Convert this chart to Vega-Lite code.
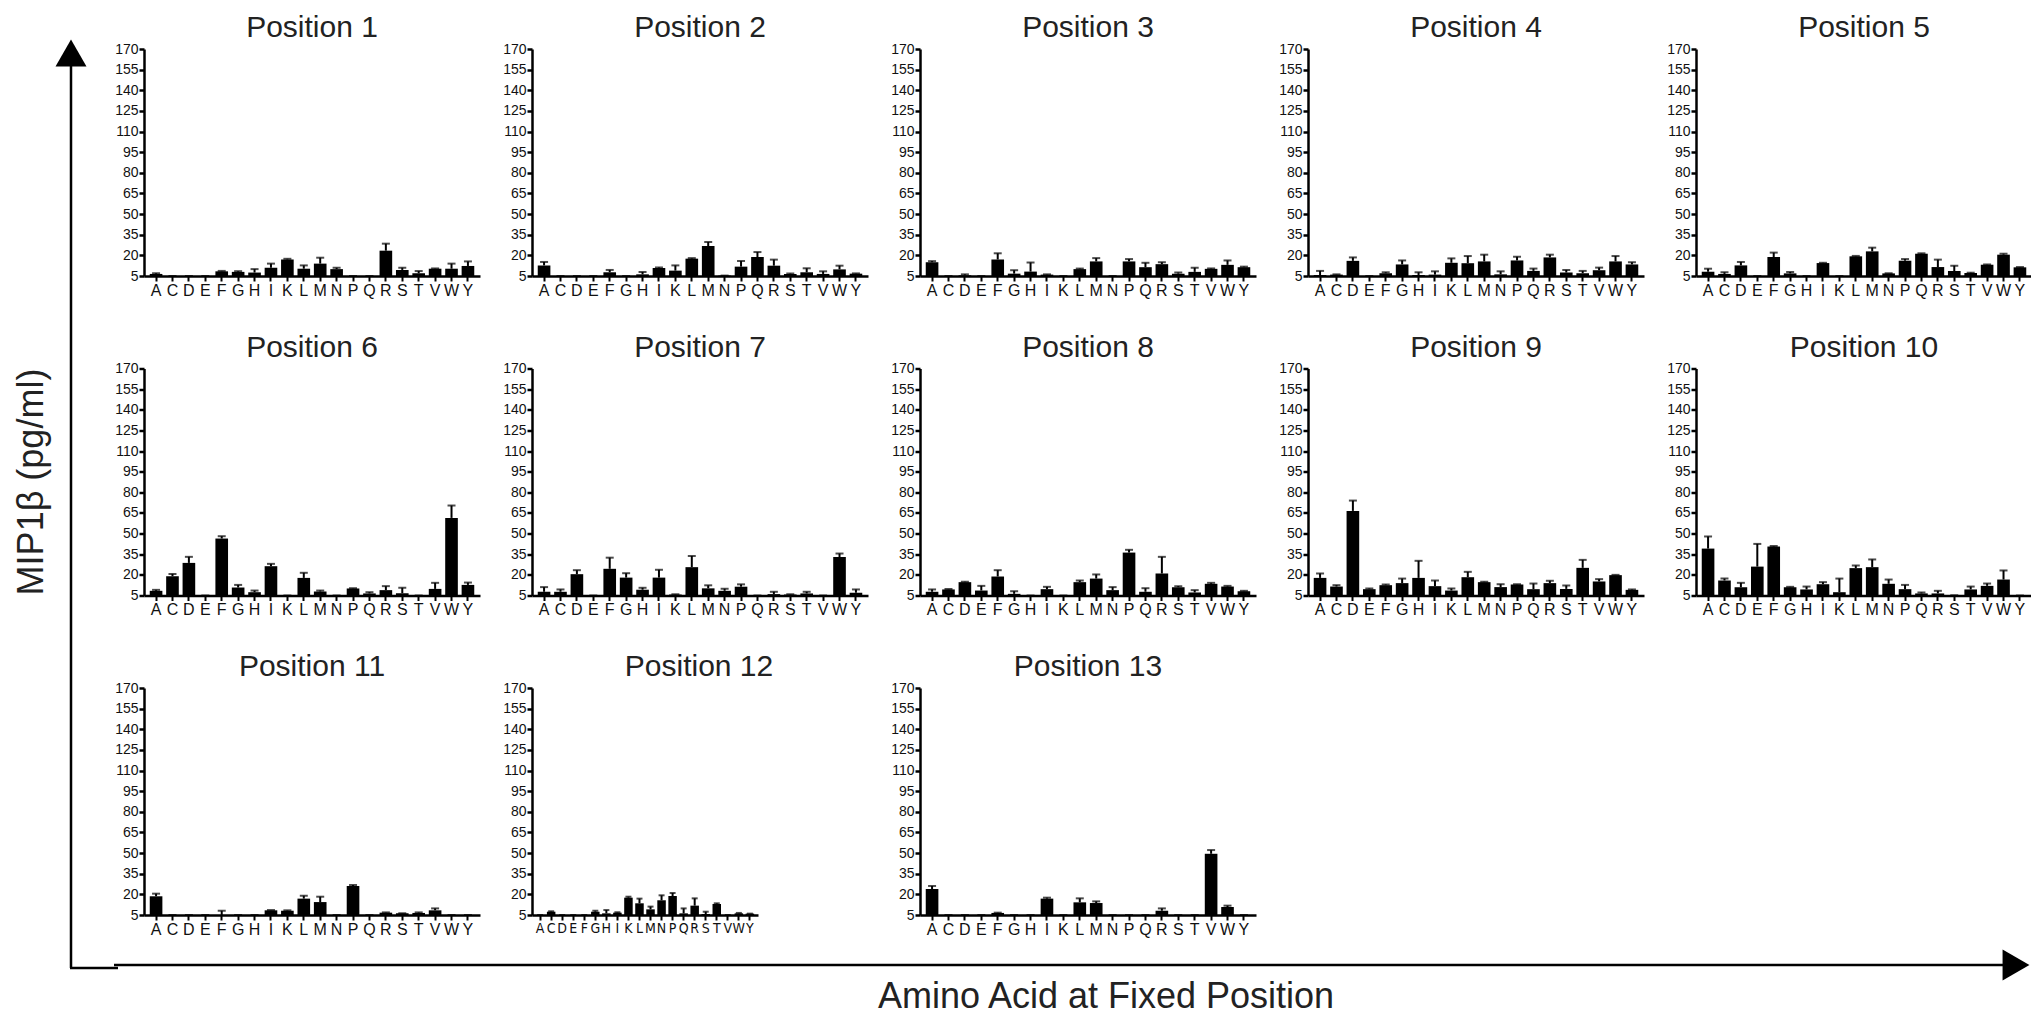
{
"$schema": "https://vega.github.io/schema/vega-lite/v6.json",
"padding": {"left": 0, "top": 13, "right": 0, "bottom": 0},
"background": "white",
"datasets": {"d": [
{"p":1,"a":"A","v":6.5,"e":7},{"p":1,"a":"C","v":5,"e":5},{"p":1,"a":"D","v":5,"e":5},{"p":1,"a":"E","v":5,"e":5},{"p":1,"a":"F","v":8.4,"e":8.7},{"p":1,"a":"G","v":8,"e":8.5},{"p":1,"a":"H","v":7.5,"e":10},{"p":1,"a":"I","v":11,"e":14},{"p":1,"a":"K","v":17,"e":17.5},{"p":1,"a":"L","v":10.3,"e":12.7},{"p":1,"a":"M","v":14,"e":18.3},{"p":1,"a":"N","v":10,"e":11},{"p":1,"a":"P","v":5,"e":5},{"p":1,"a":"Q","v":5,"e":5},{"p":1,"a":"R","v":23.4,"e":28.5},{"p":1,"a":"S","v":9.4,"e":11},{"p":1,"a":"T","v":7,"e":8.6},{"p":1,"a":"V","v":10.3,"e":10.5},{"p":1,"a":"W","v":10.3,"e":14},{"p":1,"a":"Y","v":12.3,"e":15.6},
{"p":2,"a":"A","v":12.7,"e":15.2},{"p":2,"a":"C","v":5,"e":5},{"p":2,"a":"D","v":5,"e":5},{"p":2,"a":"E","v":5,"e":5},{"p":2,"a":"F","v":7.7,"e":9.4},{"p":2,"a":"G","v":5,"e":5},{"p":2,"a":"H","v":6.2,"e":7.9},{"p":2,"a":"I","v":10.8,"e":11.2},{"p":2,"a":"K","v":8.9,"e":12.7},{"p":2,"a":"L","v":17.6,"e":18},{"p":2,"a":"M","v":26.8,"e":29.7},{"p":2,"a":"N","v":5.3,"e":5.3},{"p":2,"a":"P","v":11.8,"e":15.9},{"p":2,"a":"Q","v":18.8,"e":22.4},{"p":2,"a":"R","v":12.5,"e":16.9},{"p":2,"a":"S","v":6.5,"e":6.8},{"p":2,"a":"T","v":7.7,"e":10.6},{"p":2,"a":"V","v":6.5,"e":8.4},{"p":2,"a":"W","v":9.8,"e":12.5},{"p":2,"a":"Y","v":6.7,"e":6.9},
{"p":3,"a":"A","v":15,"e":15.8},{"p":3,"a":"C","v":5,"e":5},{"p":3,"a":"D","v":5.5,"e":6.2},{"p":3,"a":"E","v":5,"e":5},{"p":3,"a":"F","v":17,"e":21.5},{"p":3,"a":"G","v":6.7,"e":9.2},{"p":3,"a":"H","v":8.2,"e":14.8},{"p":3,"a":"I","v":6,"e":6.2},{"p":3,"a":"K","v":5,"e":5},{"p":3,"a":"L","v":10,"e":10.4},{"p":3,"a":"M","v":15.6,"e":18},{"p":3,"a":"N","v":5,"e":5},{"p":3,"a":"P","v":15.6,"e":17.3},{"p":3,"a":"Q","v":11.4,"e":14.6},{"p":3,"a":"R","v":13.6,"e":15},{"p":3,"a":"S","v":6.7,"e":7.5},{"p":3,"a":"T","v":8,"e":11},{"p":3,"a":"V","v":10.2,"e":10.5},{"p":3,"a":"W","v":13.1,"e":16.3},{"p":3,"a":"Y","v":11.4,"e":11.8},
{"p":4,"a":"A","v":5.7,"e":8.7},{"p":4,"a":"C","v":6,"e":6.2},{"p":4,"a":"D","v":16,"e":18.5},{"p":4,"a":"E","v":5,"e":5},{"p":4,"a":"F","v":7,"e":7.7},{"p":4,"a":"G","v":13.4,"e":16.3},{"p":4,"a":"H","v":5.7,"e":7.7},{"p":4,"a":"I","v":6,"e":8.4},{"p":4,"a":"K","v":14.6,"e":17.8},{"p":4,"a":"L","v":14.3,"e":19.5},{"p":4,"a":"M","v":15.6,"e":20.5},{"p":4,"a":"N","v":6.2,"e":8.4},{"p":4,"a":"P","v":16.3,"e":19},{"p":4,"a":"Q","v":8.7,"e":10.4},{"p":4,"a":"R","v":18.5,"e":20.5},{"p":4,"a":"S","v":7.5,"e":9.4},{"p":4,"a":"T","v":7,"e":8.7},{"p":4,"a":"V","v":9.2,"e":11.1},{"p":4,"a":"W","v":15.6,"e":19.5},{"p":4,"a":"Y","v":13.4,"e":15},
{"p":5,"a":"A","v":8.1,"e":10.3},{"p":5,"a":"C","v":6.5,"e":7.7},{"p":5,"a":"D","v":12.7,"e":15.2},{"p":5,"a":"E","v":5,"e":5},{"p":5,"a":"F","v":18.8,"e":22},{"p":5,"a":"G","v":6.9,"e":7.9},{"p":5,"a":"H","v":5,"e":5},{"p":5,"a":"I","v":14.4,"e":14.6},{"p":5,"a":"K","v":5,"e":5},{"p":5,"a":"L","v":19.3,"e":19.6},{"p":5,"a":"M","v":22.9,"e":25.6},{"p":5,"a":"N","v":6.9,"e":7},{"p":5,"a":"P","v":16.1,"e":17.3},{"p":5,"a":"Q","v":21.2,"e":21.5},{"p":5,"a":"R","v":11.5,"e":16.9},{"p":5,"a":"S","v":8.6,"e":12.5},{"p":5,"a":"T","v":7.2,"e":7.4},{"p":5,"a":"V","v":13.2,"e":13.4},{"p":5,"a":"W","v":20.5,"e":21.2},{"p":5,"a":"Y","v":11.3,"e":11.5},
{"p":6,"a":"A","v":8.4,"e":9.1},{"p":6,"a":"C","v":19,"e":20.7},{"p":6,"a":"D","v":28.7,"e":33.1},{"p":6,"a":"E","v":5,"e":5},{"p":6,"a":"F","v":46.4,"e":48.1},{"p":6,"a":"G","v":10.8,"e":12.7},{"p":6,"a":"H","v":7.4,"e":8.6},{"p":6,"a":"I","v":26.3,"e":28},{"p":6,"a":"K","v":5,"e":5},{"p":6,"a":"L","v":17.8,"e":21.5},{"p":6,"a":"M","v":7.9,"e":8.6},{"p":6,"a":"N","v":5,"e":5},{"p":6,"a":"P","v":10.1,"e":10.3},{"p":6,"a":"Q","v":6.5,"e":7.4},{"p":6,"a":"R","v":8.9,"e":11.8},{"p":6,"a":"S","v":6.7,"e":10.6},{"p":6,"a":"T","v":5,"e":5},{"p":6,"a":"V","v":9.8,"e":14.2},{"p":6,"a":"W","v":61.4,"e":70.4},{"p":6,"a":"Y","v":12.7,"e":14.4},
{"p":7,"a":"A","v":7.7,"e":11.1},{"p":7,"a":"C","v":7.7,"e":9.4},{"p":7,"a":"D","v":20.5,"e":23.4},{"p":7,"a":"E","v":5,"e":5},{"p":7,"a":"F","v":24.4,"e":32.5},{"p":7,"a":"G","v":18,"e":21.2},{"p":7,"a":"H","v":9.2,"e":10.6},{"p":7,"a":"I","v":18,"e":23.7},{"p":7,"a":"K","v":5.7,"e":5.9},{"p":7,"a":"L","v":25.6,"e":33.7},{"p":7,"a":"M","v":10.2,"e":12.4},{"p":7,"a":"N","v":8.4,"e":9.9},{"p":7,"a":"P","v":11.4,"e":13.1},{"p":7,"a":"Q","v":5,"e":5},{"p":7,"a":"R","v":6,"e":7.7},{"p":7,"a":"S","v":5.7,"e":5.9},{"p":7,"a":"T","v":6.5,"e":7.7},{"p":7,"a":"V","v":5,"e":5},{"p":7,"a":"W","v":33,"e":35.5},{"p":7,"a":"Y","v":7,"e":9.4},
{"p":8,"a":"A","v":7.7,"e":9.4},{"p":8,"a":"C","v":9.4,"e":9.7},{"p":8,"a":"D","v":14.7,"e":15},{"p":8,"a":"E","v":8.6,"e":12},{"p":8,"a":"F","v":18.8,"e":23.4},{"p":8,"a":"G","v":6.2,"e":8.1},{"p":8,"a":"H","v":5,"e":5},{"p":8,"a":"I","v":9.6,"e":11.3},{"p":8,"a":"K","v":5,"e":5},{"p":8,"a":"L","v":14.7,"e":15.9},{"p":8,"a":"M","v":17.3,"e":20.3},{"p":8,"a":"N","v":8.9,"e":11.1},{"p":8,"a":"P","v":36.2,"e":38.2},{"p":8,"a":"Q","v":7.7,"e":10.3},{"p":8,"a":"R","v":21,"e":33.1},{"p":8,"a":"S","v":11,"e":11.8},{"p":8,"a":"T","v":7.2,"e":8.9},{"p":8,"a":"V","v":13.5,"e":14.2},{"p":8,"a":"W","v":11.5,"e":12},{"p":8,"a":"Y","v":8.1,"e":8.4},
{"p":9,"a":"A","v":17.8,"e":21},{"p":9,"a":"C","v":11.5,"e":12.5},{"p":9,"a":"D","v":66.5,"e":74},{"p":9,"a":"E","v":9.6,"e":10.1},{"p":9,"a":"F","v":12.5,"e":13},{"p":9,"a":"G","v":14,"e":17.3},{"p":9,"a":"H","v":17.8,"e":30.2},{"p":9,"a":"I","v":11.8,"e":15.9},{"p":9,"a":"K","v":8.6,"e":10.1},{"p":9,"a":"L","v":18.3,"e":22.2},{"p":9,"a":"M","v":14.7,"e":15},{"p":9,"a":"N","v":11.1,"e":13.2},{"p":9,"a":"P","v":13,"e":13.2},{"p":9,"a":"Q","v":9.6,"e":13.7},{"p":9,"a":"R","v":14,"e":15.7},{"p":9,"a":"S","v":9.8,"e":12.3},{"p":9,"a":"T","v":25.1,"e":30.9},{"p":9,"a":"V","v":15.2,"e":16.9},{"p":9,"a":"W","v":19.8,"e":20},{"p":9,"a":"Y","v":9.1,"e":9.4},
{"p":10,"a":"A","v":39.1,"e":47.9},{"p":10,"a":"C","v":15.9,"e":17.3},{"p":10,"a":"D","v":11,"e":14.2},{"p":10,"a":"E","v":26,"e":42.5},{"p":10,"a":"F","v":40.6,"e":41},{"p":10,"a":"G","v":11,"e":11.3},{"p":10,"a":"H","v":9.4,"e":11.5},{"p":10,"a":"I","v":13.2,"e":14.7},{"p":10,"a":"K","v":7.4,"e":17.3},{"p":10,"a":"L","v":24.9,"e":26.8},{"p":10,"a":"M","v":25.6,"e":31.2},{"p":10,"a":"N","v":13.5,"e":16.6},{"p":10,"a":"P","v":9.6,"e":12.7},{"p":10,"a":"Q","v":6.5,"e":7.2},{"p":10,"a":"R","v":6.5,"e":8.4},{"p":10,"a":"S","v":5.2,"e":5.2},{"p":10,"a":"T","v":9.4,"e":11.5},{"p":10,"a":"V","v":12,"e":13.7},{"p":10,"a":"W","v":16.6,"e":23.2},{"p":10,"a":"Y","v":5,"e":5},
{"p":11,"a":"A","v":18.6,"e":20.5},{"p":11,"a":"C","v":5,"e":5},{"p":11,"a":"D","v":5,"e":5},{"p":11,"a":"E","v":5,"e":5},{"p":11,"a":"F","v":5,"e":8.1},{"p":11,"a":"G","v":5,"e":5},{"p":11,"a":"H","v":5,"e":5},{"p":11,"a":"I","v":8.4,"e":8.6},{"p":11,"a":"K","v":8.1,"e":8.4},{"p":11,"a":"L","v":16.9,"e":19},{"p":11,"a":"M","v":14.4,"e":18.3},{"p":11,"a":"N","v":5,"e":5},{"p":11,"a":"P","v":26.1,"e":26.8},{"p":11,"a":"Q","v":5,"e":5},{"p":11,"a":"R","v":6.7,"e":6.9},{"p":11,"a":"S","v":6.2,"e":6.3},{"p":11,"a":"T","v":6.5,"e":6.9},{"p":11,"a":"V","v":8.4,"e":9.8},{"p":11,"a":"W","v":5,"e":5},{"p":11,"a":"Y","v":5,"e":5},
{"p":12,"a":"A","v":5,"e":5},{"p":12,"a":"C","v":7.4,"e":7.7},{"p":12,"a":"D","v":5,"e":5},{"p":12,"a":"E","v":5,"e":5},{"p":12,"a":"F","v":5,"e":5},{"p":12,"a":"G","v":7.4,"e":8.1},{"p":12,"a":"H","v":6.2,"e":8.6},{"p":12,"a":"I","v":6.7,"e":7},{"p":12,"a":"K","v":17.6,"e":18.3},{"p":12,"a":"L","v":13.5,"e":16.9},{"p":12,"a":"M","v":9.1,"e":11.1},{"p":12,"a":"N","v":15.7,"e":19.3},{"p":12,"a":"P","v":18.8,"e":21},{"p":12,"a":"Q","v":6.2,"e":9.8},{"p":12,"a":"R","v":11.8,"e":17.1},{"p":12,"a":"S","v":5.7,"e":7.4},{"p":12,"a":"T","v":13,"e":13.5},{"p":12,"a":"V","v":5,"e":5},{"p":12,"a":"W","v":6.2,"e":6.5},{"p":12,"a":"Y","v":6,"e":6},
{"p":13,"a":"A","v":23.9,"e":26.1},{"p":13,"a":"C","v":5,"e":5},{"p":13,"a":"D","v":5,"e":5},{"p":13,"a":"E","v":5,"e":5},{"p":13,"a":"F","v":6.5,"e":6.7},{"p":13,"a":"G","v":5,"e":5},{"p":13,"a":"H","v":5,"e":5},{"p":13,"a":"I","v":16.9,"e":17.6},{"p":13,"a":"K","v":5,"e":5},{"p":13,"a":"L","v":14.2,"e":17.1},{"p":13,"a":"M","v":13.7,"e":14.9},{"p":13,"a":"N","v":5,"e":5},{"p":13,"a":"P","v":5,"e":5},{"p":13,"a":"Q","v":5,"e":5},{"p":13,"a":"R","v":8.1,"e":9.8},{"p":13,"a":"S","v":5,"e":5},{"p":13,"a":"T","v":5,"e":5},{"p":13,"a":"V","v":49.5,"e":52.2},{"p":13,"a":"W","v":10.8,"e":11.8},{"p":13,"a":"Y","v":5,"e":5}
]},
"data": {"name": "d"},
"spacing": -8,
"hconcat": [
 {"width": 110, "height": 969,
  "layer": [
   {"data": {"values": [{"x": 71, "y": 62, "y2": 965}]}, "mark": {"type": "rule", "strokeWidth": 2.5},
    "encoding": {"x": {"field": "x", "type": "quantitative", "scale": {"domain": [0, 110], "nice": false, "zero": false}, "axis": null},
                 "y": {"field": "y", "type": "quantitative", "scale": {"domain": [46, 1015], "reverse": true, "nice": false, "zero": false}, "axis": null},
                 "y2": {"field": "y2"}}},
   {"data": {"values": [{"x": 70, "x2": 118, "y": 965}]}, "mark": {"type": "rule", "strokeWidth": 2.5},
    "encoding": {"x": {"field": "x", "type": "quantitative", "axis": null}, "x2": {"field": "x2"},
                 "y": {"field": "y", "type": "quantitative", "axis": null}}},
   {"data": {"values": [{"x": 71, "y": 50}]}, "mark": {"type": "point", "shape": "triangle-up", "filled": true, "size": 961, "color": "#000", "opacity": 1},
    "encoding": {"x": {"field": "x", "type": "quantitative", "axis": null}, "y": {"field": "y", "type": "quantitative", "axis": null}}},
   {"data": {"values": [{"x": 32, "y": 479, "t": "MIP1β (pg/ml)"}]}, "mark": {"type": "text", "fontSize": 36, "angle": 270, "color": "#222", "baseline": "middle", "align": "center", "font": "Liberation Sans"},
    "encoding": {"x": {"field": "x", "type": "quantitative", "axis": null}, "y": {"field": "y", "type": "quantitative", "axis": null}, "text": {"field": "t"}}}
  ]},
 {"spacing": 0, "vconcat": [
  {"spacing": 34.5, "vconcat": [
   {"spacing": 22, "hconcat": [
    {"title": "Position 1", "width": 336, "height": 227, "transform": [{"filter": "datum.p == 1"}],
     "encoding": {"x": {"field": "a", "type": "nominal", "scale": {"domain": ["A","C","D","E","F","G","H","I","K","L","M","N","P","Q","R","S","T","V","W","Y"], "paddingInner": 0.23, "paddingOuter": 0.35}, "axis": {"title": null}},
                  "y": {"field": "v", "type": "quantitative", "title": null, "scale": {"domain": [5, 170], "nice": false, "zero": false}, "axis": {"title": null, "values": [5,20,35,50,65,80,95,110,125,140,155,170]}}},
     "layer": [{"mark": "bar", "encoding": {"y2": {"datum": 5}}}, {"mark": "rule", "encoding": {"y2": {"field": "e"}}}, {"mark": "tick", "encoding": {"y": {"field": "e", "type": "quantitative", "title": null, "axis": {"title": null, "values": [5,20,35,50,65,80,95,110,125,140,155,170]}}}}]},
    {"title": "Position 2", "width": 336, "height": 227, "transform": [{"filter": "datum.p == 2"}],
     "encoding": {"x": {"field": "a", "type": "nominal", "scale": {"domain": ["A","C","D","E","F","G","H","I","K","L","M","N","P","Q","R","S","T","V","W","Y"], "paddingInner": 0.23, "paddingOuter": 0.35}, "axis": {"title": null}},
                  "y": {"field": "v", "type": "quantitative", "title": null, "scale": {"domain": [5, 170], "nice": false, "zero": false}, "axis": {"title": null, "values": [5,20,35,50,65,80,95,110,125,140,155,170]}}},
     "layer": [{"mark": "bar", "encoding": {"y2": {"datum": 5}}}, {"mark": "rule", "encoding": {"y2": {"field": "e"}}}, {"mark": "tick", "encoding": {"y": {"field": "e", "type": "quantitative", "title": null, "axis": {"title": null, "values": [5,20,35,50,65,80,95,110,125,140,155,170]}}}}]},
    {"title": "Position 3", "width": 336, "height": 227, "transform": [{"filter": "datum.p == 3"}],
     "encoding": {"x": {"field": "a", "type": "nominal", "scale": {"domain": ["A","C","D","E","F","G","H","I","K","L","M","N","P","Q","R","S","T","V","W","Y"], "paddingInner": 0.23, "paddingOuter": 0.35}, "axis": {"title": null}},
                  "y": {"field": "v", "type": "quantitative", "title": null, "scale": {"domain": [5, 170], "nice": false, "zero": false}, "axis": {"title": null, "values": [5,20,35,50,65,80,95,110,125,140,155,170]}}},
     "layer": [{"mark": "bar", "encoding": {"y2": {"datum": 5}}}, {"mark": "rule", "encoding": {"y2": {"field": "e"}}}, {"mark": "tick", "encoding": {"y": {"field": "e", "type": "quantitative", "title": null, "axis": {"title": null, "values": [5,20,35,50,65,80,95,110,125,140,155,170]}}}}]},
    {"title": "Position 4", "width": 336, "height": 227, "transform": [{"filter": "datum.p == 4"}],
     "encoding": {"x": {"field": "a", "type": "nominal", "scale": {"domain": ["A","C","D","E","F","G","H","I","K","L","M","N","P","Q","R","S","T","V","W","Y"], "paddingInner": 0.23, "paddingOuter": 0.35}, "axis": {"title": null}},
                  "y": {"field": "v", "type": "quantitative", "title": null, "scale": {"domain": [5, 170], "nice": false, "zero": false}, "axis": {"title": null, "values": [5,20,35,50,65,80,95,110,125,140,155,170]}}},
     "layer": [{"mark": "bar", "encoding": {"y2": {"datum": 5}}}, {"mark": "rule", "encoding": {"y2": {"field": "e"}}}, {"mark": "tick", "encoding": {"y": {"field": "e", "type": "quantitative", "title": null, "axis": {"title": null, "values": [5,20,35,50,65,80,95,110,125,140,155,170]}}}}]},
    {"title": "Position 5", "width": 336, "height": 227, "transform": [{"filter": "datum.p == 5"}],
     "encoding": {"x": {"field": "a", "type": "nominal", "scale": {"domain": ["A","C","D","E","F","G","H","I","K","L","M","N","P","Q","R","S","T","V","W","Y"], "paddingInner": 0.23, "paddingOuter": 0.35}, "axis": {"title": null}},
                  "y": {"field": "v", "type": "quantitative", "title": null, "scale": {"domain": [5, 170], "nice": false, "zero": false}, "axis": {"title": null, "values": [5,20,35,50,65,80,95,110,125,140,155,170]}}},
     "layer": [{"mark": "bar", "encoding": {"y2": {"datum": 5}}}, {"mark": "rule", "encoding": {"y2": {"field": "e"}}}, {"mark": "tick", "encoding": {"y": {"field": "e", "type": "quantitative", "title": null, "axis": {"title": null, "values": [5,20,35,50,65,80,95,110,125,140,155,170]}}}}]}
   ]},
   {"spacing": 22, "hconcat": [
    {"title": "Position 6", "width": 336, "height": 227, "transform": [{"filter": "datum.p == 6"}],
     "encoding": {"x": {"field": "a", "type": "nominal", "scale": {"domain": ["A","C","D","E","F","G","H","I","K","L","M","N","P","Q","R","S","T","V","W","Y"], "paddingInner": 0.23, "paddingOuter": 0.35}, "axis": {"title": null}},
                  "y": {"field": "v", "type": "quantitative", "title": null, "scale": {"domain": [5, 170], "nice": false, "zero": false}, "axis": {"title": null, "values": [5,20,35,50,65,80,95,110,125,140,155,170]}}},
     "layer": [{"mark": "bar", "encoding": {"y2": {"datum": 5}}}, {"mark": "rule", "encoding": {"y2": {"field": "e"}}}, {"mark": "tick", "encoding": {"y": {"field": "e", "type": "quantitative", "title": null, "axis": {"title": null, "values": [5,20,35,50,65,80,95,110,125,140,155,170]}}}}]},
    {"title": "Position 7", "width": 336, "height": 227, "transform": [{"filter": "datum.p == 7"}],
     "encoding": {"x": {"field": "a", "type": "nominal", "scale": {"domain": ["A","C","D","E","F","G","H","I","K","L","M","N","P","Q","R","S","T","V","W","Y"], "paddingInner": 0.23, "paddingOuter": 0.35}, "axis": {"title": null}},
                  "y": {"field": "v", "type": "quantitative", "title": null, "scale": {"domain": [5, 170], "nice": false, "zero": false}, "axis": {"title": null, "values": [5,20,35,50,65,80,95,110,125,140,155,170]}}},
     "layer": [{"mark": "bar", "encoding": {"y2": {"datum": 5}}}, {"mark": "rule", "encoding": {"y2": {"field": "e"}}}, {"mark": "tick", "encoding": {"y": {"field": "e", "type": "quantitative", "title": null, "axis": {"title": null, "values": [5,20,35,50,65,80,95,110,125,140,155,170]}}}}]},
    {"title": "Position 8", "width": 336, "height": 227, "transform": [{"filter": "datum.p == 8"}],
     "encoding": {"x": {"field": "a", "type": "nominal", "scale": {"domain": ["A","C","D","E","F","G","H","I","K","L","M","N","P","Q","R","S","T","V","W","Y"], "paddingInner": 0.23, "paddingOuter": 0.35}, "axis": {"title": null}},
                  "y": {"field": "v", "type": "quantitative", "title": null, "scale": {"domain": [5, 170], "nice": false, "zero": false}, "axis": {"title": null, "values": [5,20,35,50,65,80,95,110,125,140,155,170]}}},
     "layer": [{"mark": "bar", "encoding": {"y2": {"datum": 5}}}, {"mark": "rule", "encoding": {"y2": {"field": "e"}}}, {"mark": "tick", "encoding": {"y": {"field": "e", "type": "quantitative", "title": null, "axis": {"title": null, "values": [5,20,35,50,65,80,95,110,125,140,155,170]}}}}]},
    {"title": "Position 9", "width": 336, "height": 227, "transform": [{"filter": "datum.p == 9"}],
     "encoding": {"x": {"field": "a", "type": "nominal", "scale": {"domain": ["A","C","D","E","F","G","H","I","K","L","M","N","P","Q","R","S","T","V","W","Y"], "paddingInner": 0.23, "paddingOuter": 0.35}, "axis": {"title": null}},
                  "y": {"field": "v", "type": "quantitative", "title": null, "scale": {"domain": [5, 170], "nice": false, "zero": false}, "axis": {"title": null, "values": [5,20,35,50,65,80,95,110,125,140,155,170]}}},
     "layer": [{"mark": "bar", "encoding": {"y2": {"datum": 5}}}, {"mark": "rule", "encoding": {"y2": {"field": "e"}}}, {"mark": "tick", "encoding": {"y": {"field": "e", "type": "quantitative", "title": null, "axis": {"title": null, "values": [5,20,35,50,65,80,95,110,125,140,155,170]}}}}]},
    {"title": "Position 10", "width": 336, "height": 227, "transform": [{"filter": "datum.p == 10"}],
     "encoding": {"x": {"field": "a", "type": "nominal", "scale": {"domain": ["A","C","D","E","F","G","H","I","K","L","M","N","P","Q","R","S","T","V","W","Y"], "paddingInner": 0.23, "paddingOuter": 0.35}, "axis": {"title": null}},
                  "y": {"field": "v", "type": "quantitative", "title": null, "scale": {"domain": [5, 170], "nice": false, "zero": false}, "axis": {"title": null, "values": [5,20,35,50,65,80,95,110,125,140,155,170]}}},
     "layer": [{"mark": "bar", "encoding": {"y2": {"datum": 5}}}, {"mark": "rule", "encoding": {"y2": {"field": "e"}}}, {"mark": "tick", "encoding": {"y": {"field": "e", "type": "quantitative", "title": null, "axis": {"title": null, "values": [5,20,35,50,65,80,95,110,125,140,155,170]}}}}]}
   ]},
   {"spacing": 22, "hconcat": [
    {"title": "Position 11", "width": 336, "height": 227, "transform": [{"filter": "datum.p == 11"}],
     "encoding": {"x": {"field": "a", "type": "nominal", "scale": {"domain": ["A","C","D","E","F","G","H","I","K","L","M","N","P","Q","R","S","T","V","W","Y"], "paddingInner": 0.23, "paddingOuter": 0.35}, "axis": {"title": null}},
                  "y": {"field": "v", "type": "quantitative", "title": null, "scale": {"domain": [5, 170], "nice": false, "zero": false}, "axis": {"title": null, "values": [5,20,35,50,65,80,95,110,125,140,155,170]}}},
     "layer": [{"mark": "bar", "encoding": {"y2": {"datum": 5}}}, {"mark": "rule", "encoding": {"y2": {"field": "e"}}}, {"mark": "tick", "encoding": {"y": {"field": "e", "type": "quantitative", "title": null, "axis": {"title": null, "values": [5,20,35,50,65,80,95,110,125,140,155,170]}}}}]},
    {"title": {"text": "Position 12", "dx": 54}, "width": 226, "height": 227, "transform": [{"filter": "datum.p == 12"}],
     "encoding": {"x": {"field": "a", "type": "nominal", "scale": {"domain": ["A","C","D","E","F","G","H","I","K","L","M","N","P","Q","R","S","T","V","W","Y"], "paddingInner": 0.23, "paddingOuter": 0.35}, "axis": {"title": null, "labelFont": "DejaVu Sans Condensed, Liberation Sans", "labelFontSize": 14}},
                  "y": {"field": "v", "type": "quantitative", "title": null, "scale": {"domain": [5, 170], "nice": false, "zero": false}, "axis": {"title": null, "values": [5,20,35,50,65,80,95,110,125,140,155,170]}}},
     "layer": [{"mark": "bar", "encoding": {"y2": {"datum": 5}}}, {"mark": "rule", "encoding": {"y2": {"field": "e"}}}, {"mark": {"type": "tick", "size": 6}, "encoding": {"y": {"field": "e", "type": "quantitative", "title": null, "axis": {"title": null, "values": [5,20,35,50,65,80,95,110,125,140,155,170]}}}}]},
    {"width": 72, "height": 227, "data": {"values": []}, "mark": "point"},
    {"title": "Position 13", "width": 336, "height": 227, "transform": [{"filter": "datum.p == 13"}],
     "encoding": {"x": {"field": "a", "type": "nominal", "scale": {"domain": ["A","C","D","E","F","G","H","I","K","L","M","N","P","Q","R","S","T","V","W","Y"], "paddingInner": 0.23, "paddingOuter": 0.35}, "axis": {"title": null}},
                  "y": {"field": "v", "type": "quantitative", "title": null, "scale": {"domain": [5, 170], "nice": false, "zero": false}, "axis": {"title": null, "values": [5,20,35,50,65,80,95,110,125,140,155,170]}}},
     "layer": [{"mark": "bar", "encoding": {"y2": {"datum": 5}}}, {"mark": "rule", "encoding": {"y2": {"field": "e"}}}, {"mark": "tick", "encoding": {"y": {"field": "e", "type": "quantitative", "title": null, "axis": {"title": null, "values": [5,20,35,50,65,80,95,110,125,140,155,170]}}}}]}
   ]}
  ]},
  {"width": 1888, "height": 70,
   "layer": [
    {"data": {"values": [{"x": 110, "x2": 2001, "y": 965}]}, "mark": {"type": "rule", "strokeWidth": 2.5},
     "encoding": {"x": {"field": "x", "type": "quantitative", "scale": {"domain": [140, 2028], "nice": false, "zero": false}, "axis": null}, "x2": {"field": "x2"},
                  "y": {"field": "y", "type": "quantitative", "scale": {"domain": [937, 1007], "reverse": true, "nice": false, "zero": false}, "axis": null}}},
    {"data": {"values": [{"x": 2012, "y": 965}]}, "mark": {"type": "point", "shape": "triangle-right", "filled": true, "size": 961, "color": "#000", "opacity": 1},
     "encoding": {"x": {"field": "x", "type": "quantitative", "axis": null}, "y": {"field": "y", "type": "quantitative", "axis": null}}},
    {"data": {"values": [{"x": 1102, "y": 997, "t": "Amino Acid at Fixed Position"}]}, "mark": {"type": "text", "fontSize": 36, "color": "#222", "baseline": "middle", "align": "center", "font": "Liberation Sans"},
     "encoding": {"x": {"field": "x", "type": "quantitative", "axis": null}, "y": {"field": "y", "type": "quantitative", "axis": null}, "text": {"field": "t"}}}
   ]}
 ]}
],
"config": {
 "view": {"stroke": null},
 "font": "Liberation Sans",
 "axis": {"domainColor": "#000", "domainWidth": 2.5, "tickColor": "#000", "tickWidth": 2.5, "tickSize": 5, "labelColor": "#111", "labelFont": "Liberation Sans", "grid": false, "labelPadding": 1},
 "axisX": {"labelAngle": 0, "labelFontSize": 16, "tickSize": 5, "tickWidth": 2, "labelPadding": 1, "labelOverlap": false},
 "axisY": {"labelFontSize": 14},
 "bar": {"color": "#000"},
 "rule": {"color": "#000", "strokeWidth": 2},
 "tick": {"color": "#000", "thickness": 2, "size": 8},
 "point": {"color": "#000"},
 "title": {"fontSize": 30, "fontWeight": "normal", "color": "#222", "font": "Liberation Sans", "offset": -1, "anchor": "middle", "frame": "group"}
}
}
